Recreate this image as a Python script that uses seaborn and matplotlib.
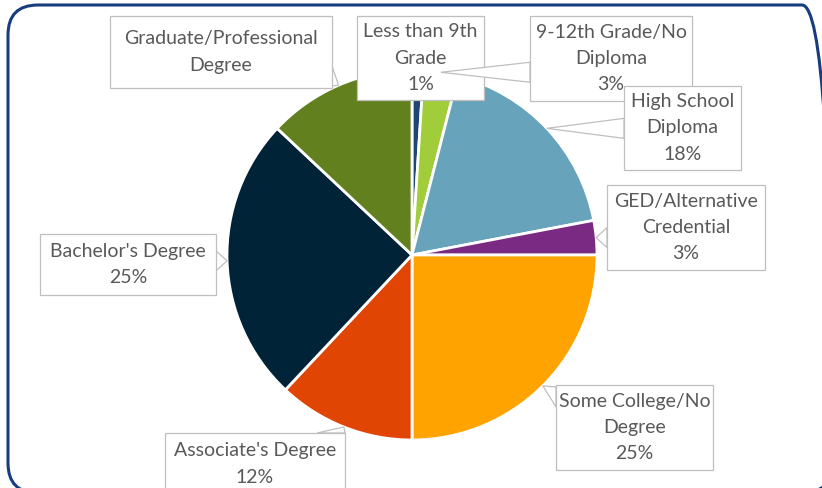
import matplotlib
matplotlib.use("Agg")
from matplotlib import pyplot as plt
from matplotlib.patches import FancyBboxPatch, Rectangle, Polygon
import numpy as np
import seaborn as sns

# data
categories = ["Less than 9th Grade", "9-12th Grade/No Diploma", "High School Diploma",
              "GED/Alternative Credential", "Some College/No Degree", "Associate's Degree",
              "Bachelor's Degree", "Graduate/Professional Degree"]
shares = [1, 3, 18, 3, 25, 12, 25, 13]
label_texts = ["Less than 9th\nGrade\n1%", "9-12th Grade/No\nDiploma\n3%", "High School\nDiploma\n18%",
               "GED/Alternative\nCredential\n3%", "Some College/No\nDegree\n25%", "Associate's Degree\n12%",
               "Bachelor's Degree\n25%", "Graduate/Professional\nDegree"]
colors = ["#1D4677", "#A2CD3B", "#67A3BA", "#7A2A83", "#FFA300", "#E04504", "#002337", "#63801F"]

# layout (pixels, top-down): label boxes x0, y0, x1, y1
boxes = [(357, 16, 484, 100), (530, 16, 692, 101), (624, 86, 741, 170), (607, 185, 765, 270),
         (556, 385, 713, 470), (165, 433, 345, 495), (40, 234, 216, 295), (110, 16, 332, 88)]
W, H = 822, 488
cx, cy, R = 412, 255, 185

sns.set_theme(style="white")
plt.rcParams["font.family"] = ["Lato", "DejaVu Sans"]

fig = plt.figure(figsize=(W / 100, H / 100), dpi=100)
ax = fig.add_axes([0, 0, 1, 1])

wedges, _ = ax.pie(shares, colors=sns.color_palette(colors), startangle=90, counterclock=False,
                   center=(cx, H - cy), radius=R, frame=True,
                   wedgeprops=dict(edgecolor="white", linewidth=2))
ax.set_xlim(0, W)
ax.set_ylim(0, H)
ax.set_aspect("equal")
ax.axis("off")

for i, (w, txt, b) in enumerate(zip(wedges, label_texts, boxes)):
    z = 5 + i * 2
    mid = np.deg2rad((w.theta1 + w.theta2) / 2)
    tx, ty = cx + R * np.cos(mid), cy - R * np.sin(mid)
    x0, y0, x1, y1 = b
    inside = x0 <= tx <= x1 and y0 <= ty <= y1
    if not inside:
        # pointer base on the nearest side of the box
        if tx < x0 or tx > x1:
            sx = x0 if tx < x0 else x1
            yc = min(max(ty, y0 + 12), y1 - 12)
            base = [(sx, yc - 10), (sx, yc + 10)]
        else:
            sy = y0 if ty < y0 else y1
            xc = min(max(tx, x0 + 14), x1 - 14)
            base = [(xc - 14, sy), (xc + 14, sy)]
        pts = [(tx, H - ty)] + [(px, H - py) for px, py in base]
        ax.add_patch(Polygon(pts, closed=True, facecolor="white", edgecolor="#BFBFBF",
                             linewidth=0.9, zorder=z))
    ax.add_patch(Rectangle((x0, H - y1), x1 - x0, y1 - y0, facecolor="white",
                           edgecolor="#BFBFBF", linewidth=0.9, zorder=z + 1))
    ax.text((x0 + x1) / 2, H - (y0 + y1) / 2, txt, ha="center", va="center",
            fontsize=14, color="#595959", linespacing=1.65, zorder=z + 1)

frame = FancyBboxPatch((8, -5), 824, 488, boxstyle="round,pad=0,rounding_size=30",
                       facecolor="none", edgecolor="#173D7E", linewidth=2.2, zorder=30)
ax.add_patch(frame)

plt.savefig("out.png", dpi=100)
